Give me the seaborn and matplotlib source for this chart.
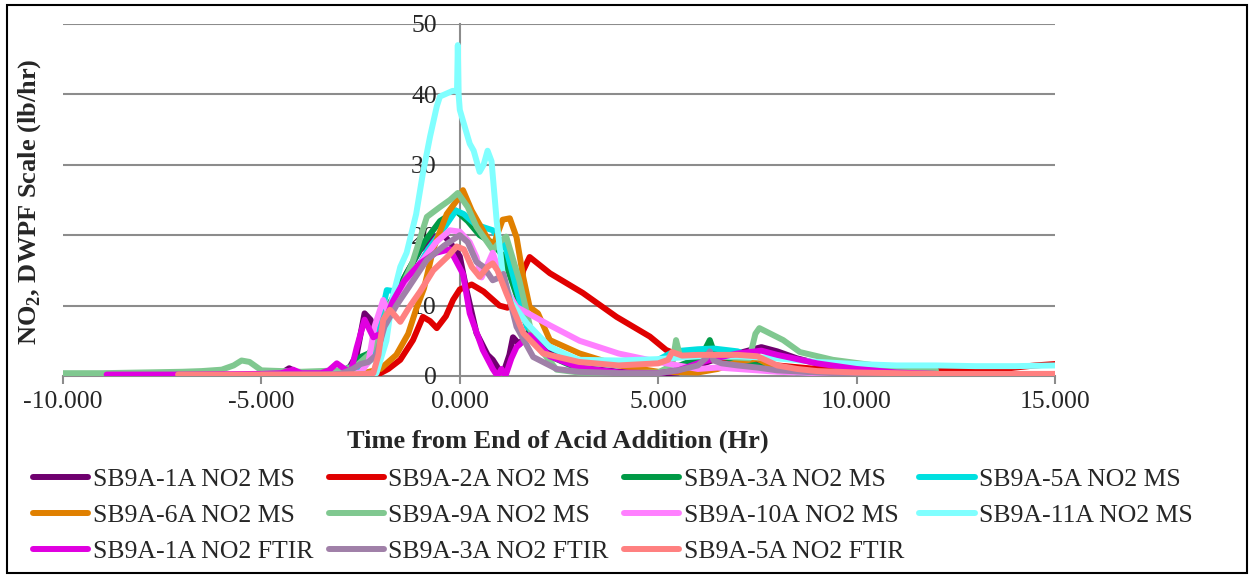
import matplotlib
matplotlib.use("Agg")
import matplotlib.pyplot as plt
import seaborn as sns
import pandas as pd
from matplotlib.patches import Rectangle

# ---------------- data ----------------
series_names = ["SB9A-1A NO2 MS", "SB9A-2A NO2 MS", "SB9A-3A NO2 MS", "SB9A-5A NO2 MS",
                "SB9A-6A NO2 MS", "SB9A-9A NO2 MS", "SB9A-10A NO2 MS", "SB9A-11A NO2 MS",
                "SB9A-1A NO2 FTIR", "SB9A-3A NO2 FTIR", "SB9A-5A NO2 FTIR"]
series_colors = ["#6F006F", "#E00000", "#009A46", "#00E0E0", "#E08000", "#80C890",
                 "#FF80FF", "#80FFFF", "#E000E0", "#A080A8", "#FF8080"]

x_1a_ms = [-5.0,-4.5,-4.3,-4.1,-3.5,-3.0,-2.8,-2.6,-2.4,-2.25,-2.1,-1.9,-1.6,-1.34,-1.0,-0.7,-0.45,-0.25,0.0,0.17,0.42,0.7,0.83,1.0,1.1,1.25,1.34,1.5,1.76,2.1,2.44,3.0,4.0,5.0,5.5,6.0,6.5,7.0,7.6,8.0,8.5,9.0,10.0,11.0]
y_1a_ms = [0.3,0.4,1.1,0.5,0.4,0.5,1.0,3.0,8.9,8.0,6.0,6.5,11.0,14.6,17.9,19.5,20.3,19.0,17.0,12.2,6.1,3.0,2.3,0.8,0.5,3.0,5.5,4.5,6.5,5.0,2.6,1.2,0.6,0.3,0.5,1.5,2.5,3.2,4.1,3.5,2.5,1.8,1.0,0.5]

x_2a_ms = [-3.0,-2.1,-1.8,-1.5,-1.18,-0.93,-0.75,-0.58,-0.35,-0.17,0.0,0.3,0.6,1.0,1.2,1.45,1.6,1.76,2.27,3.1,3.95,4.79,5.2,5.5,6.0,7.0,8.0,9.0,10.0,11.0,12.0,13.0,13.7,14.0,14.5,15.0]
y_2a_ms = [0.0,0.1,1.0,2.3,5.1,8.4,7.8,6.8,8.5,10.8,12.3,13.0,12.0,10.0,9.7,10.5,15.0,16.9,14.6,11.8,8.4,5.6,3.7,3.0,2.5,2.0,1.5,1.0,0.8,0.6,0.7,0.8,1.0,1.2,1.5,1.7]

x_3a_ms = [-5.0,-3.5,-3.0,-2.7,-2.5,-2.3,-2.0,-1.8,-1.5,-1.2,-0.9,-0.5,-0.1,0.2,0.5,0.8,1.1,1.4,1.7,2.2,3.0,4.0,5.0,6.0,6.2,6.3,6.4,6.6,7.5,8.5,9.5,11.0]
y_3a_ms = [0.3,0.4,0.6,1.5,2.7,3.2,5.0,10.0,13.0,16.0,19.0,22.0,23.5,22.0,20.0,19.0,17.0,12.0,7.0,3.0,1.0,0.3,0.3,2.5,4.0,5.1,3.5,2.8,1.5,0.5,0.3,0.2]

x_5a_ms = [-5.0,-3.5,-3.0,-2.5,-2.2,-2.0,-1.84,-1.6,-1.4,-1.1,-0.8,-0.4,-0.1,0.1,0.4,0.83,1.17,1.4,1.69,2.27,3.0,4.0,5.0,5.3,5.6,6.0,6.4,7.0,7.5,8.0,9.0,10.0]
y_5a_ms = [0.2,0.3,0.5,1.0,2.5,8.0,12.2,12.0,12.5,15.0,18.0,21.0,23.5,23.0,21.5,20.7,18.0,13.0,7.0,4.1,2.0,1.5,2.3,3.2,3.6,3.8,3.9,3.5,2.5,1.2,0.5,0.3]

x_6a_ms = [-5.0,-3.0,-2.5,-2.0,-1.6,-1.3,-1.1,-0.9,-0.67,-0.33,0.0,0.08,0.3,0.58,0.83,1.08,1.26,1.43,1.6,1.76,1.97,2.27,3.02,4.0,5.0,6.0,6.5,7.0,7.5,8.0,9.0,10.0]
y_6a_ms = [0.2,0.3,0.3,1.0,3.0,6.0,9.5,12.5,18.0,23.0,25.5,26.4,23.5,20.7,18.3,22.2,22.4,19.7,14.0,9.8,8.9,5.1,3.2,1.5,0.6,0.5,1.0,2.0,2.5,1.0,0.5,0.3]

x_9a_ms = [-10.0,-9.0,-8.0,-7.0,-6.5,-6.0,-5.7,-5.5,-5.3,-5.0,-4.5,-4.0,-3.5,-3.0,-2.6,-2.3,-2.0,-1.8,-1.5,-1.2,-0.83,-0.5,-0.25,-0.05,0.2,0.42,0.83,1.0,1.17,1.5,1.85,2.44,3.0,4.0,5.0,5.35,5.45,5.55,5.8,6.5,7.3,7.45,7.55,8.15,8.57,9.4,10.6,12.0]
y_9a_ms = [0.4,0.4,0.5,0.6,0.7,0.9,1.5,2.2,2.0,0.8,0.7,0.6,0.7,0.8,1.5,3.0,6.0,10.0,12.2,16.0,22.6,24.0,25.0,26.0,24.0,21.2,17.9,19.0,19.8,13.6,5.1,0.9,0.5,0.4,0.5,1.5,5.1,2.8,2.8,2.8,2.5,6.0,6.8,5.1,3.4,2.3,1.4,0.8]

x_10a_ms = [-5.0,-3.0,-2.5,-2.3,-2.15,-1.93,-1.8,-1.5,-1.2,-0.93,-0.6,-0.25,0.0,0.25,0.42,0.55,0.83,1.1,1.43,2.27,3.02,4.0,5.0,5.5,6.0,6.5,7.0,8.0,9.0,10.0]
y_10a_ms = [0.2,0.3,0.5,2.0,7.0,10.8,9.0,12.0,14.5,16.5,19.0,20.7,20.5,19.0,16.9,14.0,17.5,13.0,9.8,7.2,5.0,3.2,2.0,1.5,1.0,1.2,1.0,0.6,0.4,0.3]

x_11a_ms = [-5.0,-3.0,-2.3,-2.1,-1.85,-1.7,-1.5,-1.34,-1.1,-0.93,-0.75,-0.58,-0.5,-0.18,-0.07,-0.05,-0.03,0.0,0.12,0.25,0.35,0.5,0.6,0.7,0.8,0.93,1.08,1.3,1.69,2.27,3.0,4.0,5.0,6.0,7.0,8.0,9.0,10.0,11.0,12.0,13.0,14.0,15.0]
y_11a_ms = [0.3,0.3,0.3,0.4,5.0,11.0,15.5,17.5,23.0,28.8,34.0,38.3,39.7,40.5,40.5,47.0,40.0,37.8,35.5,33.0,32.0,29.0,30.0,32.0,30.5,22.0,14.6,10.5,7.5,4.1,2.3,2.2,2.4,2.8,2.8,2.5,2.0,1.7,1.5,1.5,1.4,1.4,1.5]

x_1a_ftir = [-8.9,-7.0,-5.0,-4.5,-4.2,-4.0,-3.5,-3.3,-3.1,-2.9,-2.75,-2.6,-2.4,-2.18,-2.0,-1.7,-1.4,-1.0,-0.6,-0.25,0.08,0.25,0.58,0.83,0.95,1.05,1.15,1.3,1.43,1.76,2.27,3.0,4.0,5.0,5.5,6.0,6.5,7.0,7.6,8.0,9.0,10.0,11.0,12.0]
y_1a_ftir = [0.2,0.2,0.3,0.4,0.9,0.4,0.4,0.8,1.8,1.0,0.5,4.0,8.0,5.5,6.0,10.5,13.5,16.0,17.5,18.0,14.5,8.9,3.7,1.0,0.0,1.0,0.0,2.5,4.1,5.8,2.8,1.2,0.5,0.4,0.8,1.8,2.6,3.2,3.6,3.0,1.8,1.0,0.5,0.3]

x_3a_ftir = [-5.0,-3.5,-3.0,-2.7,-2.5,-2.3,-2.1,-1.9,-1.6,-1.3,-0.83,-0.4,0.0,0.2,0.42,0.6,0.83,1.0,1.1,1.25,1.43,1.85,2.44,3.0,4.0,5.0,5.5,6.0,6.2,6.3,6.4,6.6,7.0,7.5,8.0,9.0,10.0,11.0,12.0]
y_3a_ftir = [0.2,0.2,0.3,1.0,1.7,2.0,3.0,7.0,10.0,12.5,16.5,18.5,20.0,19.0,16.2,15.5,13.6,14.0,14.5,11.0,7.0,2.7,1.0,0.6,0.4,0.4,0.8,1.5,2.5,3.5,2.2,1.8,1.5,1.2,0.8,0.5,0.3,0.3,0.2]

x_5a_ftir = [-7.1,-5.0,-3.0,-2.4,-2.18,-2.05,-1.93,-1.76,-1.5,-1.26,-1.0,-0.67,-0.3,-0.08,0.1,0.3,0.5,0.7,0.83,0.95,1.17,1.6,2.1,3.0,4.0,5.0,5.25,5.35,5.6,6.0,6.5,7.0,7.5,8.0,8.5,9.0,10.0,11.0,12.0,13.0,14.0,15.0]
y_5a_ftir = [0.2,0.2,0.2,0.3,0.4,3.0,8.0,9.4,7.7,9.9,12.0,15.0,17.0,18.4,18.0,15.5,14.1,15.5,16.0,15.0,11.8,6.1,3.2,2.0,1.5,1.8,2.3,3.4,2.9,3.0,3.0,3.0,2.8,1.5,1.0,0.7,0.5,0.4,0.3,0.3,0.3,0.3]

series_x = [x_1a_ms, x_2a_ms, x_3a_ms, x_5a_ms, x_6a_ms, x_9a_ms, x_10a_ms, x_11a_ms,
            x_1a_ftir, x_3a_ftir, x_5a_ftir]
series_y = [y_1a_ms, y_2a_ms, y_3a_ms, y_5a_ms, y_6a_ms, y_9a_ms, y_10a_ms, y_11a_ms,
            y_1a_ftir, y_3a_ftir, y_5a_ftir]

x_ticks = [-10, -5, 0, 5, 10, 15]
y_ticks = [0, 10, 20, 30, 40, 50]
x_label = "Time from End of Acid Addition (Hr)"
y_label = r"NO$_\mathbf{2}$, DWPF Scale (lb/hr)"

# ---------------- style ----------------
sns.set_theme(style="white")
plt.rcParams["font.family"] = ["Liberation Serif", "DejaVu Serif"]
plt.rcParams["mathtext.fontset"] = "custom"
plt.rcParams["mathtext.rm"] = "Liberation Serif"
plt.rcParams["mathtext.bf"] = "Liberation Serif:bold"

FS = 18.5
W, H = 1253, 577
fig = plt.figure(figsize=(W / 100, H / 100), dpi=100)
ax = fig.add_axes([63 / W, 1 - 376 / H, (1055 - 63) / W, (376 - 24) / H])

for name, col, xs, ys in zip(series_names, series_colors, series_x, series_y):
    df = pd.DataFrame({"x": xs, "y": ys})
    sns.lineplot(data=df, x="x", y="y", color=col, lw=4.3, ax=ax, label=name,
                 estimator=None, sort=False, solid_joinstyle="round", solid_capstyle="round")

ax.set_xlim(-10, 15)
ax.set_ylim(0, 50)
ax.set_xticks(x_ticks)
ax.set_xticklabels([f"{v:.3f}" for v in x_ticks])
ax.set_yticks(y_ticks)
ax.set_yticklabels([str(v) for v in y_ticks])

grid_col = "#8C8C8C"
for v in y_ticks[1:]:
    ax.axhline(v, color=grid_col, lw=1.5, zorder=0)

for s in ["top", "right"]:
    ax.spines[s].set_visible(False)
ax.spines["left"].set_position(("data", 0))
ax.spines["left"].set_color(grid_col)
ax.spines["left"].set_linewidth(1.5)
ax.spines["left"].set_zorder(0.5)
ax.spines["bottom"].set_color(grid_col)
ax.spines["bottom"].set_linewidth(1.5)
ax.spines["bottom"].set_zorder(0.5)

ax.tick_params(axis="x", direction="out", length=6, width=1.5, color=grid_col,
               labelsize=FS, pad=5, bottom=True)
ax.tick_params(axis="y", direction="out", length=0, labelsize=FS, pad=16.5, left=True)
ax.set_xlabel("")
ax.set_ylabel("")

fig.text(558 / W, 1 - 441 / H, x_label, ha="center", va="center",
         fontsize=19, fontweight="bold")
fig.text(30 / W, 1 - 202 / H, y_label, ha="center", va="center", rotation=90,
         fontsize=19, fontweight="bold")

handles, labels = ax.get_legend_handles_labels()
if ax.get_legend():
    ax.get_legend().remove()
order = [0, 4, 8, 1, 5, 9, 2, 6, 10, 3, 7]
leg = fig.legend([handles[i] for i in order], [labels[i] for i in order],
                 ncol=4, loc="upper left", bbox_to_anchor=(33 / W, 1 - 468 / H),
                 frameon=False, fontsize=FS, handlelength=2.15, handletextpad=0.17,
                 columnspacing=0.6, labelspacing=0.5, borderaxespad=0, borderpad=0)
for ln in leg.get_lines():
    ln.set_linewidth(4.3)

fig.add_artist(Rectangle((7 / W, 4 / H), (W - 13) / W, (H - 9) / H,
                         transform=fig.transFigure, fill=False, ec="black", lw=1.5))

fig.savefig("out.png", dpi=100)
